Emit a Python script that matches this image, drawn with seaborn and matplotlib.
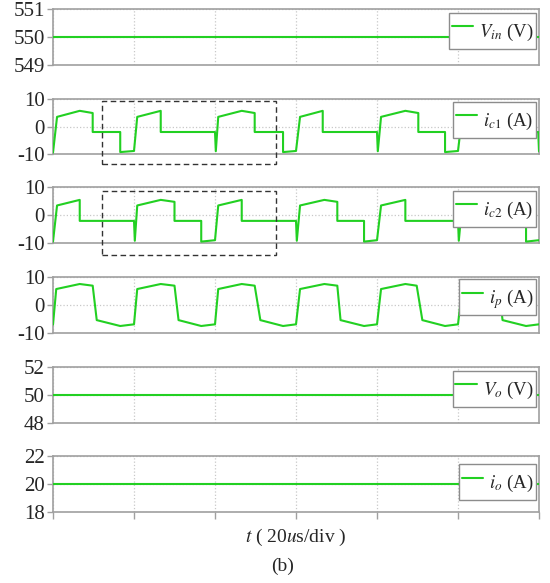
import matplotlib
matplotlib.use("Agg")
import matplotlib.pyplot as plt
import seaborn as sns
from matplotlib.patches import Rectangle

# ---------------- data (time in divisions of 20 us) ----------------
t_vin = [0, 6]
vin = [550, 550]

t_ic1 = [0, 0.05, 0.33, 0.49, 0.49, 0.83, 0.83, 1.0, 1.04, 1.33, 1.33, 2.0, 2.01, 2.04,
         2.33, 2.49, 2.49, 2.84, 2.84, 3.0, 3.05, 3.33, 3.33, 4.0, 4.01, 4.05, 4.35, 4.51,
         4.51, 4.84, 4.84, 5.0, 5.05, 5.33, 5.33, 5.99, 6.0]
ic1 = [-9.5, 3.5, 5.7, 4.9, -2.0, -2.0, -9.3, -8.9, 3.5, 5.7, -2.0, -2.0, -9.0, 3.5,
       5.7, 4.9, -2.0, -2.0, -9.3, -8.9, 3.5, 5.7, -2.0, -2.0, -9.0, 3.5, 5.7, 4.9,
       -2.0, -2.0, -9.3, -8.9, 3.5, 5.7, -2.0, -2.0, -9.0]

t_ic2 = [0, 0.05, 0.33, 0.33, 1.0, 1.01, 1.04, 1.33, 1.5, 1.5, 1.83, 1.83, 2.0, 2.04,
         2.33, 2.33, 3.0, 3.01, 3.05, 3.35, 3.51, 3.51, 3.84, 3.84, 4.0, 4.05, 4.35, 4.35,
         5.0, 5.01, 5.05, 5.35, 5.51, 5.51, 5.84, 5.84, 6.0]
ic2 = [-9.5, 3.4, 5.4, -2.1, -2.1, -9.2, 3.4, 5.4, 4.7, -2.1, -2.1, -9.5, -9.0, 3.4,
       5.4, -2.1, -2.1, -9.2, 3.4, 5.4, 4.7, -2.1, -2.1, -9.5, -9.0, 3.4, 5.4, -2.1,
       -2.1, -9.2, 3.4, 5.4, 4.7, -2.1, -2.1, -9.5, -9.0]

t_ip = [0, 0.04, 0.33, 0.49, 0.54, 0.83, 1.0, 1.04, 1.33, 1.5, 1.55, 1.83, 2.0, 2.04,
        2.33, 2.49, 2.56, 2.84, 3.0, 3.05, 3.35, 3.51, 3.55, 3.84, 4.0, 4.05, 4.35, 4.49,
        4.56, 4.84, 5.0, 5.05, 5.35, 5.5, 5.55, 5.84, 6.0]
ip = [-7.0, 5.7, 7.5, 6.9, -5.4, -7.5, -6.9, 5.7, 7.5, 6.9, -5.4, -7.5, -6.9, 5.7,
      7.5, 6.9, -5.4, -7.5, -6.9, 5.7, 7.5, 6.9, -5.4, -7.5, -6.9, 5.7, 7.5, 6.9,
      -5.4, -7.5, -6.9, 5.7, 7.5, 6.9, -5.4, -7.5, -6.9]

t_vo = [0, 6]
vo = [50, 50]
t_io = [0, 6]
io = [20, 20]

labels = [r"$V_{in}$ (V)", r"$i_{c1}$ (A)", r"$i_{c2}$ (A)", r"$i_{p}$ (A)",
          r"$V_{o}$ (V)", r"$i_{o}$ (A)"]
yticks = [[549, 550, 551], [-10, 0, 10], [-10, 0, 10], [-10, 0, 10],
          [48, 50, 52], [18, 20, 22]]
xlabel = r"$t$ ( 20$u$s/div )"
caption = "(b)"

# ---------------- style ----------------
sns.set_style("white")
plt.rcParams["font.family"] = ["Liberation Serif", "DejaVu Serif"]
plt.rcParams["mathtext.fontset"] = "stix"
plt.rcParams["axes.unicode_minus"] = False

GREEN = "#22d022"
SPINE = "#a0a0a0"
GRID = "#c8c8c8"

W, H = 550, 583
fig = plt.figure(figsize=(W / 100, H / 100), dpi=100)
left_px, right_px = 53, 539
panels_px = [(9, 65), (99, 154), (187, 243), (277, 333), (367, 423), (456, 512)]
leg_tops = [0.93, 0.945, 0.93, 0.96, 0.93, 0.85]

series = [(t_vin, vin), (t_ic1, ic1), (t_ic2, ic2), (t_ip, ip), (t_vo, vo), (t_io, io)]

axes = []
for i, ((top, bot), (tx, vy)) in enumerate(zip(panels_px, series)):
    ax = fig.add_axes([left_px / W, 1 - bot / H, (right_px - left_px) / W, (bot - top) / H])
    axes.append(ax)
    sns.lineplot(x=tx, y=vy, ax=ax, estimator=None, sort=False, color=GREEN,
                 lw=1.5, label=labels[i], zorder=3)
    ax.set_xlim(0, 6)
    yt = yticks[i]
    ax.set_ylim(yt[0], yt[-1])
    ax.set_yticks(yt)
    ax.set_yticklabels([str(v) for v in yt])
    ax.set_xticks(range(0, 7))
    ax.set_xlabel("")
    ax.set_ylabel("")
    for s in ax.spines.values():
        s.set_visible(True)
        s.set_color(SPINE)
        s.set_linewidth(1.2)
    ax.grid(True, axis="both", color=GRID, linestyle=":", linewidth=0.9, zorder=0)
    ax.tick_params(axis="y", direction="out", length=4, width=1, color=SPINE,
                   labelsize=15, pad=2, left=True)
    if i == len(series) - 1:
        ax.tick_params(axis="x", direction="out", length=5, width=1, color=SPINE,
                       bottom=True, labelbottom=False)
    else:
        ax.tick_params(axis="x", bottom=False, labelbottom=False)
    leg = ax.legend(loc="upper right", bbox_to_anchor=(0.994, leg_tops[i]),
                    borderaxespad=0, fontsize=13.5, frameon=True, fancybox=False,
                    framealpha=1, edgecolor="#8c8c8c", handlelength=1.15,
                    handletextpad=0.3, borderpad=0.15, handleheight=2.1)
    leg.get_frame().set_linewidth(1.0)
    leg.set_zorder(5)

# dashed zoom boxes
for ax, (y0, y1) in [(axes[1], (-13.6, 9.4)), (axes[2], (-14.3, 8.4))]:
    rect = Rectangle((0.61, y0), 2.75 - 0.61, y1 - y0, fill=False, ls=(0, (4, 2.5)),
                     ec="#333333", lw=1.0, clip_on=False, zorder=4)
    ax.add_patch(rect)

fig.text((left_px + right_px) / 2 / W, 1 - 537 / H, xlabel, ha="center", va="center",
         fontsize=14)
fig.text(283 / W, 1 - 566 / H, caption, ha="center", va="center", fontsize=14)

fig.savefig("out.png", dpi=100)
